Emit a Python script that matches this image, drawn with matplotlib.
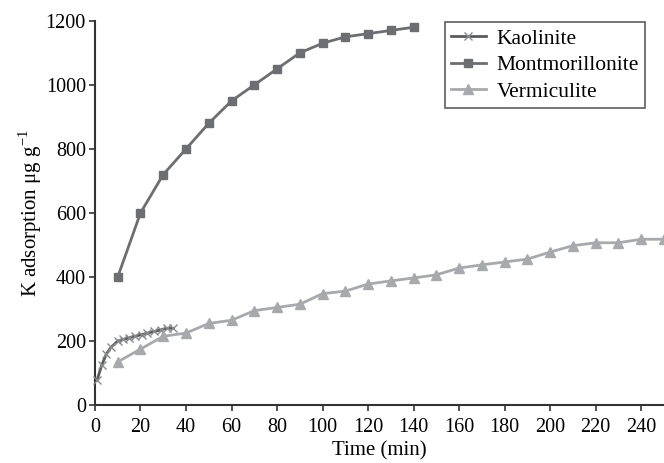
import matplotlib
matplotlib.use("Agg")
import matplotlib.pyplot as plt

plt.rcParams["font.family"] = ["Liberation Serif", "DejaVu Serif"]
plt.rcParams["mathtext.fontset"] = "custom"
plt.rcParams["mathtext.rm"] = "Liberation Serif"

# Kaolinite (fine time steps, short run)
kao_t = [1, 3, 5, 7, 10, 12.5, 15, 17.5, 20.5, 23, 26, 29, 31.5, 34.5]
kao_y = [80, 125, 160, 180, 200, 205, 210, 215, 220, 225, 230, 235, 240, 240]

mont_t = [10, 20, 30, 40, 50, 60, 70, 80, 90, 100, 110, 120, 130, 140]
mont_y = [400, 600, 720, 800, 880, 950, 1000, 1050, 1100, 1130, 1150, 1160, 1170, 1180]

verm_t = [10, 20, 30, 40, 50, 60, 70, 80, 90, 100, 110, 120, 130, 140, 150,
          160, 170, 180, 190, 200, 210, 220, 230, 240, 250]
verm_y = [135, 175, 215, 225, 255, 265, 295, 305, 315, 348, 356, 378, 388, 397, 407,
          428, 438, 447, 456, 478, 498, 507, 507, 518, 518]

x_ticks = list(range(0, 260, 20))
y_ticks = list(range(0, 1400, 200))

fig = plt.figure(figsize=(6.64, 4.63), dpi=100)
ax = fig.add_axes([0.143, 0.125, 0.857, 0.83])

ax.plot(kao_t, kao_y, color="#5b5c5e", lw=2.0, marker="x", ms=5.5, mew=1.0,
        mec="#8a8b8d", label="Kaolinite", clip_on=False, zorder=3)
ax.plot(mont_t, mont_y, color="#6d6e71", lw=2.0, marker="s", ms=5.5,
        label="Montmorillonite", clip_on=False, zorder=3)
ax.plot(verm_t, verm_y, color="#a7a9ac", lw=2.0, marker="^", ms=6.5,
        label="Vermiculite", clip_on=False, zorder=3)

ax.set_xlim(0, 250)
ax.set_ylim(0, 1200)
ax.set_xticks(x_ticks)
ax.set_yticks(y_ticks)
ax.tick_params(labelsize=14.5, length=4.5, width=1.2, color="#333333", pad=2)
ax.tick_params(axis="x", pad=5)
ax.spines["top"].set_visible(False)
ax.spines["right"].set_visible(False)
for s in ("left", "bottom"):
    ax.spines[s].set_linewidth(1.5)
    ax.spines[s].set_color("#333333")

ax.set_xlabel("Time (min)", fontsize=15, labelpad=3)
ax.set_ylabel(r"K adsorption μg g$^{-1}$", fontsize=15, labelpad=1)

leg = ax.legend(loc="upper right", bbox_to_anchor=(0.967, 0.997), fontsize=15.5,
                frameon=True, fancybox=False, handlelength=1.6, handletextpad=0.5,
                borderpad=0.3, labelspacing=0.3, borderaxespad=0.0)
leg.get_frame().set_edgecolor("#333333")
leg.get_frame().set_linewidth(1.2)

fig.savefig("out.png", dpi=100)
